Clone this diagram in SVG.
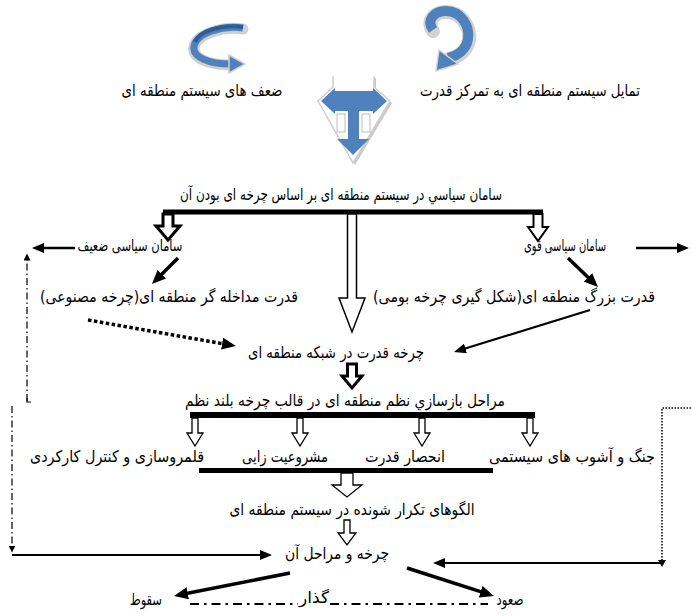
<svg xmlns="http://www.w3.org/2000/svg" width="691" height="616" viewBox="0 0 691 616">
<style>
text{font-family:"DejaVu Sans",sans-serif;font-size:16px;fill:#000;text-anchor:middle}
.ln{fill:none;stroke:#000}
.blk{fill:#fff;stroke:#000;stroke-linejoin:miter}
.bar{fill:#000}
.blue{fill:#4f81bd}
</style>
<defs>
<marker id="ah" viewBox="0 0 12 10" refX="7" refY="5" markerWidth="12" markerHeight="10" markerUnits="userSpaceOnUse" orient="auto"><path d="M0,0 L12,5 L0,10 z" fill="#000"/></marker>
<marker id="ahL" viewBox="0 0 14 12" refX="8" refY="6" markerWidth="14" markerHeight="12" markerUnits="userSpaceOnUse" orient="auto"><path d="M0,0 L14,6 L0,12 z" fill="#000"/></marker>
<marker id="ahS" viewBox="0 0 8 8" refX="4" refY="4" markerWidth="7" markerHeight="7" markerUnits="userSpaceOnUse" orient="auto"><path d="M0,0 L8,4 L0,8 z" fill="#000"/></marker>
</defs>
<rect width="691" height="616" fill="#fff"/>

<g id="icon-left-curve">
<path d="M243,29 C222,26 197,34 194,47 C192,58 208,65 231,65" fill="none" stroke="#cfcfcf" stroke-width="11" stroke-linecap="round"/>
<path d="M243,28 C222,25 197,33 194,46 C192,57 208,64 231,64" fill="none" stroke="#4f81bd" stroke-width="7"/>
<path d="M243,27 C222,24 199,31 195,42" fill="none" stroke="#2f5c95" stroke-width="4"/>
<polygon points="229,55 245,64 229,73" fill="#4f81bd" stroke="#cfcfcf" stroke-width="1.5"/>
</g>

<g id="icon-right-curl">
<path d="M433,31 C426,21 434,12 446,12 C461,12 471,27 469,40 C467,51 458,57 449,59" fill="none" stroke="#d2d2d2" stroke-width="14" stroke-linecap="round"/>
<path d="M433,30 C426,20 434,11 446,11 C461,11 470,26 468,39 C466,50 457,56 448,58" fill="none" stroke="#4f81bd" stroke-width="10"/>
<polygon points="439,50 458,64 436,71" fill="#4f81bd" stroke="#d2d2d2" stroke-width="1.5"/>
</g>

<g id="icon-gem">
<path d="M335,78 L335,89 L320,103 L355,165 L392,103 L376,89 L376,78" fill="#c9c9c9"/>
<path d="M333,76 L333,87 L318,101 L353,163 L390,101 L374,87 L374,76" fill="#fff" stroke="#cfcfcf" stroke-width="1.5"/>
<path d="M321,101 L335,88 L335,91 L373,91 L373,88 L387,101 L373,114 L373,111 L359,111 L359,139 L369,139 L353,155 L337,139 L348,139 L348,111 L335,111 L335,114 Z" class="blue"/>
<rect x="337" y="114" width="8" height="18" fill="#fff" stroke="#bdbdbd" stroke-width="1"/>
<rect x="362" y="114" width="8" height="18" fill="#fff" stroke="#bdbdbd" stroke-width="1"/>
</g>

<g id="n-weakness"><text x="202" y="96" direction="rtl" textLength="161" lengthAdjust="spacingAndGlyphs">ضعف های سیستم منطقه ای</text></g>
<g id="n-tendency"><text x="530" y="96" direction="rtl" textLength="220" lengthAdjust="spacingAndGlyphs">تمایل سیستم منطقه ای به تمرکز قدرت</text></g>
<g id="n-order"><text x="341" y="200" direction="rtl" textLength="322" lengthAdjust="spacingAndGlyphs">سامان سیاسي در سیستم منطقه ای بر اساس چرخه ای بودن آن</text></g>
<g id="n-weak"><text x="130" y="251" direction="rtl" textLength="105" lengthAdjust="spacingAndGlyphs">سامان سیاسی ضعیف</text></g>
<g id="n-strong"><text x="565" y="251" direction="rtl" textLength="82" lengthAdjust="spacingAndGlyphs">سامان سیاسی قوی</text></g>
<g id="n-intervene"><text x="169" y="302" direction="rtl" textLength="258" lengthAdjust="spacingAndGlyphs">قدرت مداخله گر منطقه ای(چرخه مصنوعی)</text></g>
<g id="n-great"><text x="514" y="302" direction="rtl" textLength="282" lengthAdjust="spacingAndGlyphs">قدرت بزرگ منطقه ای(شکل گیری چرخه بومی)</text></g>
<g id="n-cycle-net"><text x="336" y="358" direction="rtl" textLength="176" lengthAdjust="spacingAndGlyphs">چرخه قدرت در شبکه منطقه ای</text></g>
<g id="n-stages"><text x="345" y="406" direction="rtl" textLength="320" lengthAdjust="spacingAndGlyphs">مراحل بازسازي نظم منطقه ای در قالب چرخه بلند نظم</text></g>
<g id="n-territory"><text x="117" y="462" direction="rtl" textLength="174" lengthAdjust="spacingAndGlyphs">قلمروسازی و کنترل کارکردی</text></g>
<g id="n-legit"><text x="285" y="462" direction="rtl" textLength="86" lengthAdjust="spacingAndGlyphs">مشروعیت زایی</text></g>
<g id="n-monopoly"><text x="405" y="462" direction="rtl" textLength="80" lengthAdjust="spacingAndGlyphs">انحصار قدرت</text></g>
<g id="n-war"><text x="572" y="462" direction="rtl" textLength="166" lengthAdjust="spacingAndGlyphs">جنگ و آشوب های سیستمی</text></g>
<g id="n-patterns"><text x="352" y="515" direction="rtl" textLength="245" lengthAdjust="spacingAndGlyphs">الگوهای تکرار شونده در سیستم منطقه ای</text></g>
<g id="n-cycle"><text x="337" y="559" direction="rtl" textLength="104" lengthAdjust="spacingAndGlyphs">چرخه و مراحل آن</text></g>
<g id="n-fall"><text x="146" y="605" direction="rtl" textLength="32" lengthAdjust="spacingAndGlyphs">سقوط</text></g>
<g id="n-transition"><text x="314" y="603" direction="rtl" textLength="30" lengthAdjust="spacingAndGlyphs">گذار</text></g>
<g id="n-rise"><text x="510" y="605" direction="rtl" textLength="27" lengthAdjust="spacingAndGlyphs">صعود</text></g>

<g id="connectors">
<rect class="bar" x="163" y="209.5" width="380" height="5"/>
<polygon class="blk" stroke-width="3" points="163,214 173,214 173,226 180,226 168,240 156,226 163,226"/>
<polygon class="blk" stroke-width="2" points="533.5,214 542.5,214 542.5,227 548,227 538,241 528,227 533.5,227"/>
<polygon class="blk" stroke-width="1.5" points="347.5,214 356.5,214 356.5,298 365,298 352,332 339,298 347.5,298"/>
<line class="ln" x1="75" y1="248" x2="37" y2="248" stroke-width="2.5" marker-end="url(#ah)"/>
<line class="ln" x1="636" y1="248" x2="684" y2="248" stroke-width="2.5" marker-end="url(#ah)"/>
<line class="ln" x1="178" y1="258" x2="156.2" y2="279.8" stroke-width="3.5" marker-end="url(#ahL)"/>
<line class="ln" x1="568" y1="258" x2="593.7" y2="282.8" stroke-width="3.5" marker-end="url(#ahL)"/>
<line class="ln" x1="88" y1="320" x2="230" y2="345" stroke-width="3.5" stroke-dasharray="3.5,2.5" marker-end="url(#ahL)"/>
<line class="ln" x1="590" y1="310" x2="458.8" y2="350.5" stroke-width="2.2" marker-end="url(#ah)"/>
<polygon class="blk" stroke-width="3" points="347.5,364 356.5,364 356.5,376 362,376 352,388 342,376 347.5,376"/>
<rect class="bar" x="190" y="412" width="345" height="6"/>
<polygon class="blk" stroke-width="1.3" points="192,418 198,418 198,433 203,433 195,446 187,433 192,433"/>
<polygon class="blk" stroke-width="1.3" points="297,418 303,418 303,433 308,433 300,446 292,433 297,433"/>
<polygon class="blk" stroke-width="1.3" points="419,418 425,418 425,433 430,433 422,446 414,433 419,433"/>
<polygon class="blk" stroke-width="1.3" points="527,418 533,418 533,433 538,433 530,446 522,433 527,433"/>
<rect class="bar" x="199" y="468" width="294" height="5"/>
<polygon class="blk" stroke-width="1.3" points="341,473 353,473 353,485 362,485 347,497 332,485 341,485"/>
<polygon class="blk" stroke-width="1.3" points="344,520 350,520 350,533 356,533 347,545 338,533 344,533"/>
<path class="ln" d="M27,401 L27,257" stroke-width="1.2" stroke-dasharray="7,3,1.5,3" marker-end="url(#ahS)"/>
<path class="ln" d="M27,398 L27,402 L31,402" stroke-width="1.2"/>
<path class="ln" d="M12,406 L12,549" stroke-width="1.2" stroke-dasharray="7,3,1.5,3" marker-end="url(#ahS)"/>
<line class="ln" x1="12" y1="555" x2="267" y2="555" stroke-width="2.2" marker-end="url(#ah)"/>
<path class="ln" d="M691,408 L662,408 L662,563" stroke-width="1.5" stroke-dasharray="1.5,1.5"/>
<line class="ln" x1="662" y1="563" x2="438" y2="563" stroke-width="2.2" marker-end="url(#ah)"/>
<path d="M658,560 L666,560 L662,567 Z" fill="#000"/>
<line class="ln" x1="290" y1="573" x2="179.9" y2="594.8" stroke-width="3.5" marker-end="url(#ahL)"/>
<line class="ln" x1="407" y1="568" x2="488.3" y2="594.2" stroke-width="3.5" marker-end="url(#ahL)"/>
<line class="ln" x1="190" y1="604" x2="298" y2="604" stroke-width="2" stroke-dasharray="9,5,2.5,5"/>
<line class="ln" x1="330" y1="604" x2="488" y2="604" stroke-width="2" stroke-dasharray="9,5,2.5,5"/>
</g>
</svg>
